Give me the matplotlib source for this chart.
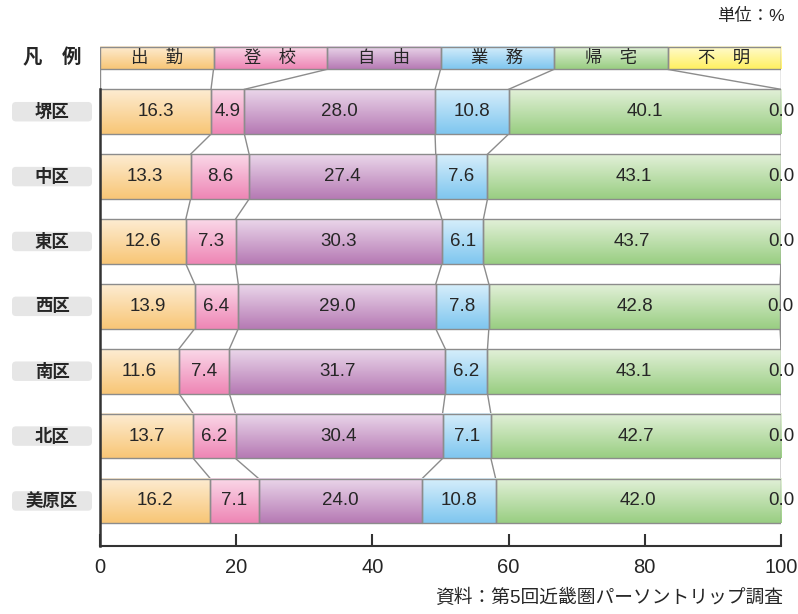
import numpy as np
import matplotlib
matplotlib.use("Agg")
import matplotlib.pyplot as plt
from matplotlib.colors import LinearSegmentedColormap
from matplotlib.patches import FancyBboxPatch, Rectangle

plt.rcParams['font.family'] = ['Liberation Sans', 'Noto Sans CJK JP']

# データ
districts = ['堺区', '中区', '東区', '西区', '南区', '北区', '美原区']
purposes = ['出　勤', '登　校', '自　由', '業　務', '帰　宅', '不　明']
shukkin = [16.3, 13.3, 12.6, 13.9, 11.6, 13.7, 16.2]
toko = [4.9, 8.6, 7.3, 6.4, 7.4, 6.2, 7.1]
jiyu = [28.0, 27.4, 30.3, 29.0, 31.7, 30.4, 24.0]
gyomu = [10.8, 7.6, 6.1, 7.8, 6.2, 7.1, 10.8]
kitaku = [40.1, 43.1, 43.7, 42.8, 43.1, 42.7, 42.0]
fumei = [0.0, 0.0, 0.0, 0.0, 0.0, 0.0, 0.0]
xticks = [0, 20, 40, 60, 80, 100]

# グラデーション（上:明るい → 下:濃い）
grad = [('#fdecd2', '#f8c676'), ('#fad8e8', '#ee86b5'), ('#ead6ea', '#b67ab4'),
        ('#d6eefb', '#7fc6ef'), ('#e2f0d8', '#99ce82'), ('#fffbd0', '#fff060')]
cmaps = [LinearSegmentedColormap.from_list('c%d' % i, g) for i, g in enumerate(grad)]
img = np.linspace(0, 1, 64).reshape(-1, 1)

vals = np.array([shukkin, toko, jiyu, gyomu, kitaku, fumei]).T
cum = np.hstack([np.zeros((len(districts), 1)), np.cumsum(vals, axis=1)])
edge = '#8c8c8c'
txt = '#262626'
h = 0.69

fig = plt.figure(figsize=(7.98, 6.14), dpi=100)
ax = fig.add_axes([100 / 798, 0.1112, 681 / 798, 0.8178])
ax.set_xlim(0, 100)
ax.set_ylim(6.69, -1.05)

def gbar(x0, x1, yc, hh, k):
    ax.imshow(img, cmap=cmaps[k], extent=(x0, x1, yc + hh / 2, yc - hh / 2),
              aspect='auto', interpolation='bilinear', zorder=2)
    ax.add_patch(Rectangle((x0, yc - hh / 2), x1 - x0, hh, fill=False,
                           ec=edge, lw=1, zorder=3))

# 凡例
lw_ = 100 / 6
ly0, ly1 = -1.0, -0.653
for k, p in enumerate(purposes):
    gbar(k * lw_, (k + 1) * lw_, (ly0 + ly1) / 2, ly1 - ly0, k)
    ax.text((k + 0.5) * lw_, (ly0 + ly1) / 2, p, ha='center', va='center',
            fontsize=12.5, color=txt, zorder=4)

# 帯グラフ
for i in range(len(districts)):
    for k in range(6):
        x0, x1 = cum[i, k], min(cum[i, k + 1], 100)
        if x1 - x0 > 0:
            gbar(x0, x1, i, h, k)
        ax.text((cum[i, k] + min(cum[i, k + 1], 100)) / 2, i, '%.1f' % vals[i, k],
                ha='center', va='center', fontsize=13.5, color=txt, zorder=4,
                clip_on=False)

# 区切り線（凡例→最初の帯、帯→帯）
for k in range(7):
    ax.plot([min(k * lw_, 100), min(cum[0, k], 100)], [ly1, -h / 2],
            color=edge, lw=1, zorder=1)
for i in range(len(districts) - 1):
    for k in range(1, 7):
        ax.plot([min(cum[i, k], 100), min(cum[i + 1, k], 100)],
                [i + h / 2, i + 1 - h / 2], color=edge, lw=1, zorder=1)

# 軸
for s in ['left', 'top', 'right']:
    ax.spines[s].set_visible(False)
ax.spines['bottom'].set_color('#333333')
ax.spines['bottom'].set_linewidth(1.5)
ax.plot([0, 0], [-h / 2, 6.69], color='#333333', lw=1.8, zorder=5, clip_on=False)
ax.set_xticks(xticks)
ax.set_xticklabels([str(t) for t in xticks], fontsize=14.5, color=txt)
ax.tick_params(axis='x', direction='in', length=9, width=1.5, color='#333333', pad=9)
ax.set_yticks([])

# 区名ラベル
lax = fig.add_axes([0, 0.1112, 100 / 798, 0.8178])
lax.set_xlim(0, 100)
lax.set_ylim(6.69, -1.05)
lax.axis('off')
for i, d in enumerate(districts):
    lax.add_patch(FancyBboxPatch((12, i - 0.15), 80, 0.3,
                                 boxstyle='round,pad=0,rounding_size=4',
                                 mutation_aspect=1 / 64.9, fc='#e6e6e6', ec='none'))
    lax.text(52, i, d, ha='center', va='center', fontsize=12.5,
             fontweight='bold', color=txt)
lax.text(52, (ly0 + ly1) / 2, '凡　例', ha='center', va='center', fontsize=14,
         fontweight='bold', color=txt)

fig.text(785 / 798, 1 - 16 / 614, '単位：%', ha='right', va='center', fontsize=12.5, color=txt)
fig.text(783 / 798, 1 - 598 / 614, '資料：第5回近畿圏パーソントリップ調査',
         ha='right', va='center', fontsize=13.5, color=txt)

fig.savefig('out.png', dpi=100)
